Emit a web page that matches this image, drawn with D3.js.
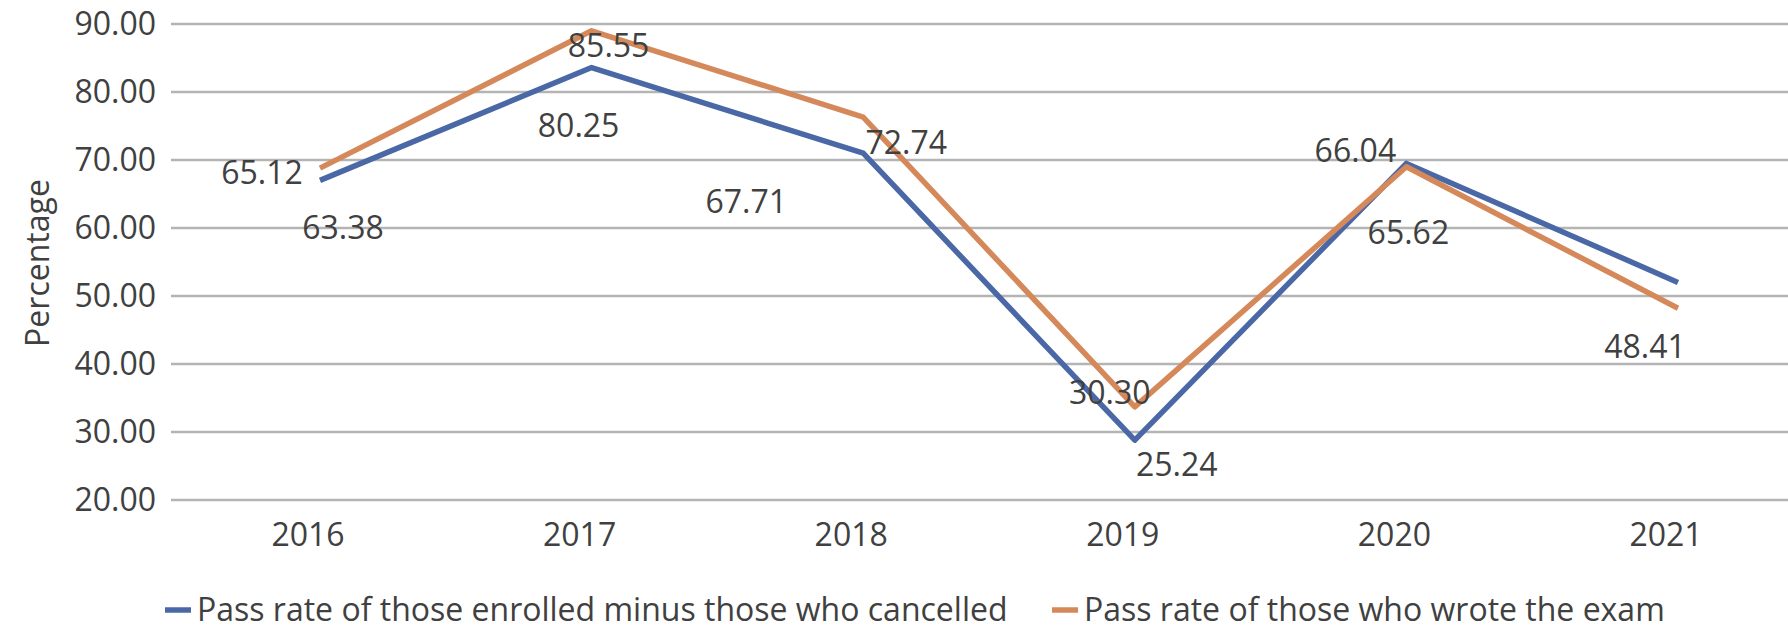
<!DOCTYPE html>
<html>
<head>
<meta charset="utf-8">
<script src="https://cdn.jsdelivr.net/npm/d3@7"></script>
<style>
  html, body { margin: 0; padding: 0; background: #fff; }
  svg text { font-family: "Open Sans", "Noto Sans", sans-serif; fill: #404040; }
</style>
</head>
<body>
<svg id="chart" width="1788" height="627"></svg>
<script>
// categories and values
const years = ["2016", "2017", "2018", "2019", "2020", "2021"];
const enrolledMinusCancelled = [67.0, 83.6, 71.0, 28.8, 69.5, 52.0];
const wroteExam = [68.8, 89.0, 76.3, 33.7, 69.0, 48.2];
// the data labels printed in the chart (they do not sit on the line)
const enrolledLabels = ["63.38", "80.25", "67.71", "25.24", "66.04", null];
const wroteLabels = ["65.12", "85.55", "72.74", "30.30", "65.62", "48.41"];
const yTicks = [20, 30, 40, 50, 60, 70, 80, 90];

const seriesNames = [
  "Pass rate of those enrolled minus those who cancelled",
  "Pass rate of those who wrote the exam"
];
const colors = ["#4a68a6", "#d5895a"];

// label offsets from their point (layout only)
const enrolledOffsets = [[23, 47], [-13, 58], [-117, 49], [42, 25], [-51, -13], [0, 0]];
const wroteOffsets = [[-58, 5], [17, 15], [43, 26], [-25, -14], [2, 66], [-33, 39]];

const svg = d3.select("#chart");
const W = 1788;
const gridLeft = 171;

const x = d3.scalePoint().domain(years).range([320, 1678]);
const y = d3.scaleLinear().domain([20, 90]).range([500, 24]);

// gridlines
svg.append("g")
  .selectAll("line")
  .data(yTicks)
  .join("line")
  .attr("x1", gridLeft)
  .attr("x2", W)
  .attr("y1", d => y(d))
  .attr("y2", d => y(d))
  .attr("stroke", "#b4b4b4")
  .attr("stroke-width", 2.5);

// y tick labels
svg.append("g")
  .selectAll("text")
  .data(yTicks)
  .join("text")
  .attr("x", 156)
  .attr("y", d => y(d))
  .attr("dy", "0.35em")
  .attr("text-anchor", "end")
  .style("font-size", "32px")
  .text(d => d.toFixed(2));

// x labels
svg.append("g")
  .selectAll("text")
  .data(years)
  .join("text")
  .attr("x", d => x(d) - 12)
  .attr("y", 535)
  .attr("dy", "0.35em")
  .attr("text-anchor", "middle")
  .style("font-size", "32px")
  .text(d => d);

// axis title
svg.append("text")
  .attr("transform", "translate(38,263) rotate(-90)")
  .attr("dy", "0.35em")
  .attr("text-anchor", "middle")
  .style("font-size", "32px")
  .text("Percentage");

const line = d3.line()
  .x((d, i) => x(years[i]))
  .y(d => y(d));

const series = [
  { values: enrolledMinusCancelled, labels: enrolledLabels, offsets: enrolledOffsets },
  { values: wroteExam, labels: wroteLabels, offsets: wroteOffsets }
];

series.forEach((s, k) => {
  svg.append("path")
    .datum(s.values)
    .attr("d", line)
    .attr("fill", "none")
    .attr("stroke", colors[k])
    .attr("stroke-width", 5.5)
    .attr("stroke-linejoin", "round");
});

series.forEach(s => {
  svg.append("g")
    .selectAll("text")
    .data(s.values.map((v, i) => ({ v, i })).filter(d => s.labels[d.i]))
    .join("text")
    .attr("x", d => x(years[d.i]) + s.offsets[d.i][0])
    .attr("y", d => y(d.v) + s.offsets[d.i][1])
    .attr("dy", "0.35em")
    .attr("text-anchor", "middle")
    .style("font-size", "32px")
    .text(d => s.labels[d.i]);
});

// legend
const legendItems = [
  { x: 165, name: seriesNames[0], color: colors[0] },
  { x: 1052, name: seriesNames[1], color: colors[1] }
];
const legend = svg.append("g");
legendItems.forEach(item => {
  legend.append("line")
    .attr("x1", item.x).attr("x2", item.x + 26)
    .attr("y1", 610).attr("y2", 610)
    .attr("stroke", item.color)
    .attr("stroke-width", 5.5);
  legend.append("text")
    .attr("x", item.x + 32)
    .attr("y", 610)
    .attr("dy", "0.35em")
    .style("font-size", "32px")
    .text(item.name);
});
</script>
</body>
</html>
